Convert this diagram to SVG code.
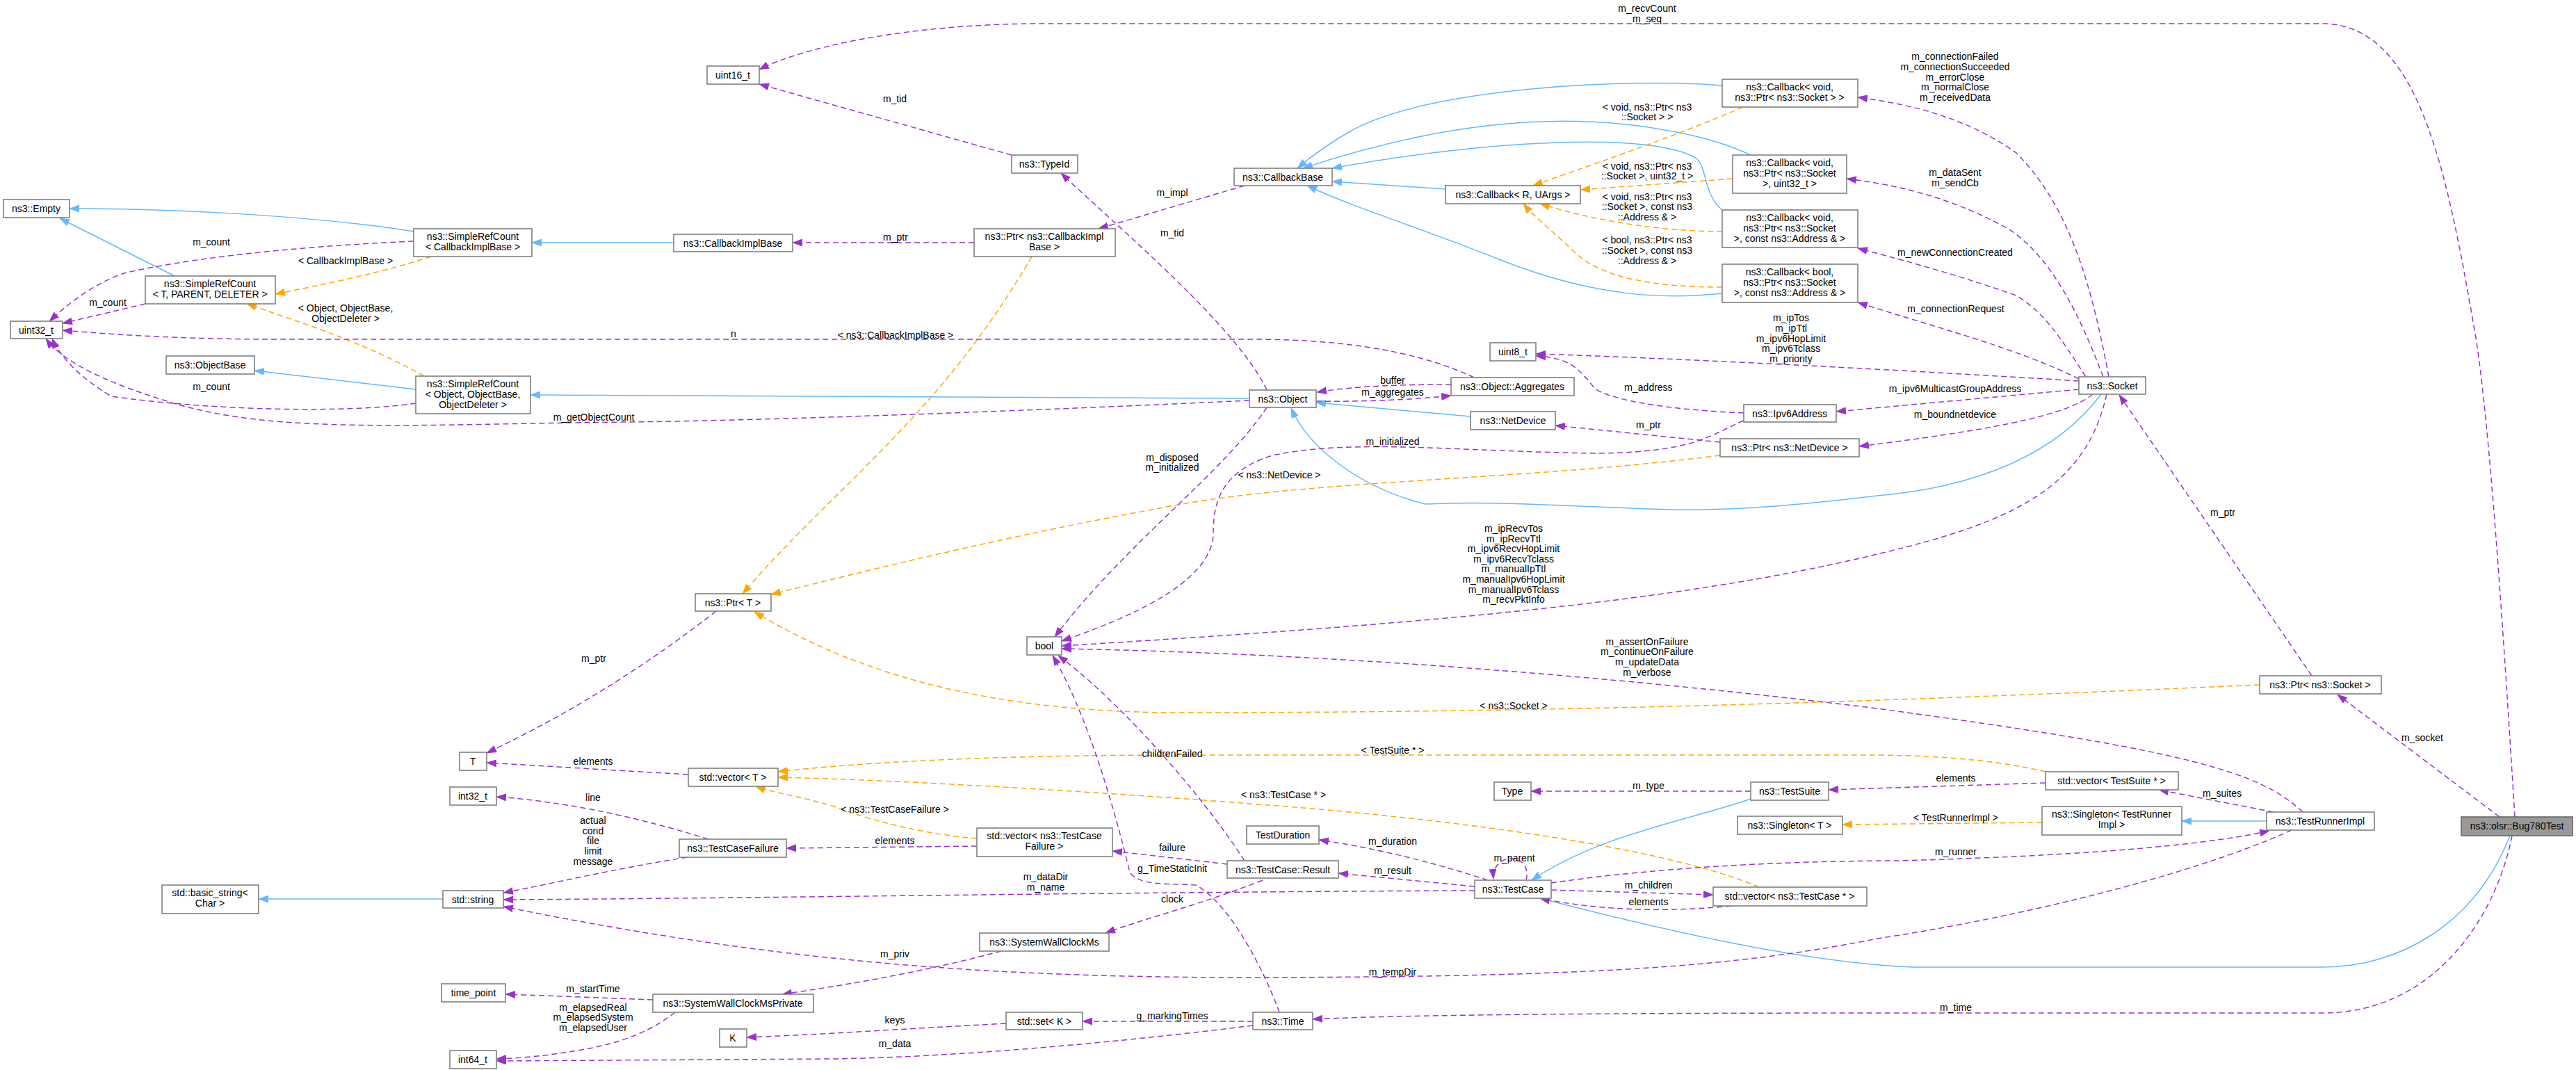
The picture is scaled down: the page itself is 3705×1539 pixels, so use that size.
<svg xmlns="http://www.w3.org/2000/svg" width="3705" height="1539" viewBox="0 0 3705 1539">
<style>
.n rect{fill:#fff;stroke:#808080;stroke-width:1.6}
.n text,.l{font-family:"Liberation Sans",Arial,sans-serif;font-size:14px;text-anchor:middle;fill:#000}
.e path{fill:none;stroke-width:1.5}
.u{stroke:#9a32cd;stroke-dasharray:8,5;marker-end:url(#ap)}
.i{stroke:#63b8ff;marker-end:url(#ab)}
.o{stroke:#ffa500;stroke-dasharray:8,5;marker-end:url(#ao)}
</style>
<defs>
<marker id="ap" markerWidth="15" markerHeight="11" refX="14" refY="5.5" orient="auto" markerUnits="userSpaceOnUse"><path d="M0,0 L15,5.5 L0,11 z" fill="#9a32cd"/></marker>
<marker id="ab" markerWidth="15" markerHeight="11" refX="14" refY="5.5" orient="auto" markerUnits="userSpaceOnUse"><path d="M0,0 L15,5.5 L0,11 z" fill="#63b8ff"/></marker>
<marker id="ao" markerWidth="15" markerHeight="11" refX="14" refY="5.5" orient="auto" markerUnits="userSpaceOnUse"><path d="M0,0 L15,5.5 L0,11 z" fill="#ffa500"/></marker>
</defs>
<rect width="3705" height="1539" fill="#fff"/>
<g id="edges" class="e">
<path class="i" d="M595,333 C450,310 250,300 100,300"/>
<path class="i" d="M251,397 L86,314"/>
<path class="i" d="M969,349 L765,349"/>
<path class="i" d="M598,560 L366,533"/>
<path class="i" d="M1797,573 L763,568"/>
<path class="i" d="M2115,599 L1893,579"/>
<path class="i" d="M3022,567 C2960,650 2850,700 2700,713 C2600,725 2500,735 2400,733 C2250,728 2150,720 2050,725 C1950,700 1880,640 1857,587"/>
<path class="i" d="M2477,123 C2350,112 2050,125 1940,190 C1905,210 1880,230 1866,242"/>
<path class="i" d="M2518,223 C2480,205 2440,195 2400,188 C2200,150 2000,200 1874,242"/>
<path class="i" d="M2477,302 C2450,280 2455,240 2440,228 C2380,190 2150,200 1916,242"/>
<path class="i" d="M2079,272 L1916,261"/>
<path class="i" d="M2477,422 C2400,430 2300,430 2156,373 C2050,330 1950,300 1880,267"/>
<path class="i" d="M2518,1149 C2430,1180 2300,1200 2203,1266"/>
<path class="i" d="M3610,1202 C3560,1330 3450,1391 3341,1391 L2750,1391 C2600,1385 2400,1340 2215,1292"/>
<path class="i" d="M3260,1181 L3138,1181"/>
<path class="i" d="M637,1293 L372,1293"/>

<path class="o" d="M620,369 C540,395 460,410 396,423"/>
<path class="o" d="M610,541 C520,490 420,460 355,437"/>
<path class="o" d="M1484,369 C1350,600 1200,700 1068,854"/>
<path class="o" d="M2474,655 C2200,690 1900,690 1700,725 C1450,770 1250,820 1109,855"/>
<path class="o" d="M3250,985 C2800,1005 2300,1025 1700,1025 C1450,1025 1250,980 1085,880"/>
<path class="o" d="M2942,1110 C2880,1095 2800,1087 2700,1086 L1700,1086 C1450,1086 1250,1095 1119,1110"/>
<path class="o" d="M2530,1276 C2400,1220 2100,1180 1850,1160 C1600,1140 1300,1122 1119,1118"/>
<path class="o" d="M1405,1206 C1330,1200 1250,1180 1200,1160 C1150,1145 1110,1140 1087,1131"/>
<path class="o" d="M2937,1183 L2650,1186"/>
<path class="o" d="M2507,154 C2400,200 2280,240 2205,267"/>
<path class="o" d="M2492,257 L2273,273"/>
<path class="o" d="M2477,333 C2400,333 2300,320 2215,293"/>
<path class="o" d="M2477,413 C2380,413 2300,400 2262,360 C2230,330 2205,310 2191,293"/>

<path class="u" d="M595,347 C480,352 300,365 178,393 C130,410 95,440 71,462"/>
<path class="u" d="M209,437 L90,465"/>
<path class="u" d="M598,580 C500,595 300,590 160,570 C110,540 85,510 75,487"/>
<path class="u" d="M1797,576 C1500,590 1100,605 900,607 C600,610 400,625 250,580 C150,550 90,520 66,487"/>
<path class="u" d="M2120,543 C2050,510 1950,488 1800,488 L400,488 C250,488 150,480 90,475"/>
<path class="u" d="M3617,1175 C3600,900 3580,600 3560,480 C3520,250 3480,34 3340,34 L1500,34 C1300,34 1150,70 1092,100"/>
<path class="u" d="M1455,223 L1092,121"/>
<path class="u" d="M1822,561 C1780,470 1600,320 1526,249"/>
<path class="u" d="M1790,267 L1580,329"/>
<path class="u" d="M1401,349 L1140,349"/>
<path class="u" d="M1822,586 C1760,680 1620,780 1517,916"/>
<path class="u" d="M2508,605 C2460,625 2440,650 2300,652 C2100,650 1950,630 1830,655 C1750,680 1745,730 1745,770 C1740,840 1620,890 1527,922"/>
<path class="u" d="M2508,594 C2420,590 2330,580 2295,560 C2270,530 2260,515 2209,512"/>
<path class="u" d="M2990,548 C2700,530 2400,515 2209,509"/>
<path class="u" d="M2990,560 L2641,592"/>
<path class="u" d="M3010,567 C2970,600 2850,620 2674,642"/>
<path class="u" d="M3030,567 C3000,700 2900,750 2700,797 C2400,870 2000,900 1527,929"/>
<path class="u" d="M3312,1168 C3250,1110 3150,1080 2700,1019 C2300,970 1900,940 1527,933"/>
<path class="u" d="M1790,1238 C1720,1130 1600,1000 1522,943"/>
<path class="u" d="M1840,1456 C1820,1400 1770,1300 1720,1273 C1680,1270 1640,1275 1625,1255 C1600,1150 1560,1020 1514,943"/>
<path class="u" d="M1019,1207 C900,1170 800,1152 714,1146"/>
<path class="u" d="M989,1233 C880,1250 800,1270 724,1284"/>
<path class="u" d="M2121,1281 C1600,1283 1100,1292 724,1294"/>
<path class="u" d="M3296,1194 C3150,1260 2900,1320 2700,1350 C2500,1390 2300,1405 1800,1406 C1400,1406 1100,1380 724,1304"/>
<path class="u" d="M1405,1217 L1131,1220"/>
<path class="u" d="M990,1114 L700,1097"/>
<path class="u" d="M1030,879 C900,980 790,1040 700,1083"/>
<path class="u" d="M1765,1243 L1600,1224"/>
<path class="u" d="M1816,1266 C1730,1300 1650,1320 1590,1342"/>
<path class="u" d="M2121,1275 L1925,1256"/>
<path class="u" d="M2140,1266 C2060,1240 1980,1220 1897,1208"/>
<path class="u" d="M2195,1266 C2205,1225 2145,1225 2148,1264"/>
<path class="u" d="M2231,1280 L2464,1287"/>
<path class="u" d="M2490,1303 C2400,1312 2300,1310 2215,1292"/>
<path class="u" d="M2518,1138 L2202,1138"/>
<path class="u" d="M2942,1126 L2630,1136"/>
<path class="u" d="M3270,1168 L3105,1136"/>
<path class="u" d="M2231,1270 C2400,1245 2600,1238 2730,1238 C2950,1232 3150,1220 3264,1195"/>
<path class="u" d="M3595,1175 L3362,999"/>
<path class="u" d="M3613,1202 C3590,1320 3500,1457 3341,1457 L2700,1457 C2300,1457 2000,1460 1888,1466"/>
<path class="u" d="M3325,972 L3048,568"/>
<path class="u" d="M3033,542 C3010,420 2980,300 2900,220 C2830,170 2750,150 2672,140"/>
<path class="u" d="M3025,542 C2990,450 2950,370 2890,330 C2800,280 2720,265 2656,257"/>
<path class="u" d="M3000,542 C2960,480 2940,450 2900,425 C2800,390 2720,370 2672,357"/>
<path class="u" d="M2990,545 C2900,500 2780,470 2672,435"/>
<path class="u" d="M2087,553 C2020,553 1950,555 1894,564"/>
<path class="u" d="M1893,577 C1960,578 2030,575 2087,569"/>
<path class="u" d="M2474,636 L2237,612"/>
<path class="u" d="M1440,1368 C1340,1395 1230,1415 1125,1430"/>
<path class="u" d="M939,1438 L727,1430"/>
<path class="u" d="M971,1456 C940,1480 900,1500 830,1511 C790,1518 750,1522 714,1523"/>
<path class="u" d="M1802,1475 C1600,1500 1380,1520 1200,1523 L714,1526"/>
<path class="u" d="M1802,1469 L1557,1469"/>
<path class="u" d="M1447,1472 C1300,1480 1180,1488 1074,1492"/>
</g>
<g id="labels">
<text class="l" x="304" y="353">m_count</text>
<text class="l" x="497" y="380">&lt; CallbackImplBase &gt;</text>
<text class="l" x="155" y="440">m_count</text>
<text class="l" x="497" y="448">&lt; Object, ObjectBase,</text>
<text class="l" x="497" y="463">ObjectDeleter &gt;</text>
<text class="l" x="304" y="561">m_count</text>
<text class="l" x="854" y="605">m_getObjectCount</text>
<text class="l" x="854" y="952">m_ptr</text>
<text class="l" x="1287" y="147">m_tid</text>
<text class="l" x="1686" y="282">m_impl</text>
<text class="l" x="1288" y="346">m_ptr</text>
<text class="l" x="1686" y="340">m_tid</text>
<text class="l" x="1055" y="485">n</text>
<text class="l" x="1288" y="487">&lt; ns3::CallbackImplBase &gt;</text>
<text class="l" x="2369" y="17">m_recvCount</text>
<text class="l" x="2369" y="32">m_seq</text>
<text class="l" x="2369" y="159">&lt; void, ns3::Ptr&lt; ns3</text>
<text class="l" x="2369" y="173">::Socket &gt; &gt;</text>
<text class="l" x="2369" y="244">&lt; void, ns3::Ptr&lt; ns3</text>
<text class="l" x="2369" y="258">::Socket &gt;, uint32_t &gt;</text>
<text class="l" x="2369" y="288">&lt; void, ns3::Ptr&lt; ns3</text>
<text class="l" x="2369" y="302">::Socket &gt;, const ns3</text>
<text class="l" x="2369" y="317">::Address &amp; &gt;</text>
<text class="l" x="2369" y="350">&lt; bool, ns3::Ptr&lt; ns3</text>
<text class="l" x="2369" y="365">::Socket &gt;, const ns3</text>
<text class="l" x="2369" y="380">::Address &amp; &gt;</text>
<text class="l" x="2576" y="462">m_ipTos</text>
<text class="l" x="2576" y="477">m_ipTtl</text>
<text class="l" x="2576" y="492">m_ipv6HopLimit</text>
<text class="l" x="2576" y="506">m_ipv6Tclass</text>
<text class="l" x="2576" y="521">m_priority</text>
<text class="l" x="2812" y="86">m_connectionFailed</text>
<text class="l" x="2812" y="101">m_connectionSucceeded</text>
<text class="l" x="2812" y="116">m_errorClose</text>
<text class="l" x="2812" y="130">m_normalClose</text>
<text class="l" x="2812" y="145">m_receivedData</text>
<text class="l" x="2812" y="253">m_dataSent</text>
<text class="l" x="2812" y="268">m_sendCb</text>
<text class="l" x="2812" y="368">m_newConnectionCreated</text>
<text class="l" x="2813" y="449">m_connectionRequest</text>
<text class="l" x="1686" y="663">m_disposed</text>
<text class="l" x="1686" y="677">m_initialized</text>
<text class="l" x="1840" y="688">&lt; ns3::NetDevice &gt;</text>
<text class="l" x="2003" y="552">buffer</text>
<text class="l" x="2003" y="569">m_aggregates</text>
<text class="l" x="2371" y="562">m_address</text>
<text class="l" x="2371" y="616">m_ptr</text>
<text class="l" x="2003" y="640">m_initialized</text>
<text class="l" x="2177" y="765">m_ipRecvTos</text>
<text class="l" x="2177" y="780">m_ipRecvTtl</text>
<text class="l" x="2177" y="794">m_ipv6RecvHopLimit</text>
<text class="l" x="2177" y="809">m_ipv6RecvTclass</text>
<text class="l" x="2177" y="823">m_manualIpTtl</text>
<text class="l" x="2177" y="838">m_manualIpv6HopLimit</text>
<text class="l" x="2177" y="853">m_manualIpv6Tclass</text>
<text class="l" x="2177" y="867">m_recvPktInfo</text>
<text class="l" x="2369" y="928">m_assertOnFailure</text>
<text class="l" x="2369" y="942">m_continueOnFailure</text>
<text class="l" x="2369" y="957">m_updateData</text>
<text class="l" x="2369" y="972">m_verbose</text>
<text class="l" x="2177" y="1020">&lt; ns3::Socket &gt;</text>
<text class="l" x="2812" y="564">m_ipv6MulticastGroupAddress</text>
<text class="l" x="2812" y="601">m_boundnetdevice</text>
<text class="l" x="3197" y="742">m_ptr</text>
<text class="l" x="853" y="1100">elements</text>
<text class="l" x="853" y="1152">line</text>
<text class="l" x="853" y="1185">actual</text>
<text class="l" x="853" y="1200">cond</text>
<text class="l" x="853" y="1214">file</text>
<text class="l" x="853" y="1229">limit</text>
<text class="l" x="853" y="1244">message</text>
<text class="l" x="853" y="1427">m_startTime</text>
<text class="l" x="853" y="1454">m_elapsedReal</text>
<text class="l" x="853" y="1468">m_elapsedSystem</text>
<text class="l" x="853" y="1483">m_elapsedUser</text>
<text class="l" x="1686" y="1089">childrenFailed</text>
<text class="l" x="1287" y="1169">&lt; ns3::TestCaseFailure &gt;</text>
<text class="l" x="1287" y="1214">elements</text>
<text class="l" x="1686" y="1224">failure</text>
<text class="l" x="1686" y="1254">g_TimeStaticInit</text>
<text class="l" x="1504" y="1266">m_dataDir</text>
<text class="l" x="1504" y="1281">m_name</text>
<text class="l" x="1686" y="1298">clock</text>
<text class="l" x="1287" y="1377">m_priv</text>
<text class="l" x="1287" y="1472">keys</text>
<text class="l" x="1686" y="1466">g_markingTimes</text>
<text class="l" x="1287" y="1506">m_data</text>
<text class="l" x="1846" y="1148">&lt; ns3::TestCase * &gt;</text>
<text class="l" x="2003" y="1084">&lt; TestSuite * &gt;</text>
<text class="l" x="2371" y="1135">m_type</text>
<text class="l" x="2003" y="1215">m_duration</text>
<text class="l" x="2178" y="1239">m_parent</text>
<text class="l" x="2003" y="1257">m_result</text>
<text class="l" x="2371" y="1278">m_children</text>
<text class="l" x="2371" y="1302">elements</text>
<text class="l" x="2003" y="1403">m_tempDir</text>
<text class="l" x="3484" y="1066">m_socket</text>
<text class="l" x="2813" y="1124">elements</text>
<text class="l" x="3196" y="1146">m_suites</text>
<text class="l" x="2813" y="1181">&lt; TestRunnerImpl &gt;</text>
<text class="l" x="2813" y="1230">m_runner</text>
<text class="l" x="2813" y="1454">m_time</text>
</g>
<g id="n_empty" class="n"><rect x="5" y="287" width="95" height="26"/><text x="52" y="305">ns3::Empty</text></g>
<g id="n_src_cib" class="n"><rect x="595" y="329" width="170" height="40"/><text x="680" y="345">ns3::SimpleRefCount</text><text x="680" y="360">&lt; CallbackImplBase &gt;</text></g>
<g id="n_src_t" class="n"><rect x="209" y="397" width="187" height="40"/><text x="302" y="413">ns3::SimpleRefCount</text><text x="302" y="428">&lt; T, PARENT, DELETER &gt;</text></g>
<g id="n_uint32" class="n"><rect x="15" y="462" width="75" height="25"/><text x="52" y="480">uint32_t</text></g>
<g id="n_uint16" class="n"><rect x="1017" y="95" width="75" height="26"/><text x="1054" y="113">uint16_t</text></g>
<g id="n_typeid" class="n"><rect x="1455" y="223" width="95" height="26"/><text x="1502" y="241">ns3::TypeId</text></g>
<g id="n_cib" class="n"><rect x="969" y="337" width="171" height="25"/><text x="1054" y="355">ns3::CallbackImplBase</text></g>
<g id="n_ptr_cib" class="n"><rect x="1401" y="329" width="203" height="40"/><text x="1502" y="345">ns3::Ptr&lt; ns3::CallbackImpl</text><text x="1502" y="360">Base &gt;</text></g>
<g id="n_cbbase" class="n"><rect x="1775" y="242" width="141" height="25"/><text x="1845" y="260">ns3::CallbackBase</text></g>
<g id="n_cb1" class="n"><rect x="2477" y="114" width="195" height="40"/><text x="2574" y="130">ns3::Callback&lt; void,</text><text x="2574" y="145">ns3::Ptr&lt; ns3::Socket &gt; &gt;</text></g>
<g id="n_cb2" class="n"><rect x="2492" y="223" width="164" height="55"/><text x="2574" y="239">ns3::Callback&lt; void,</text><text x="2574" y="254">ns3::Ptr&lt; ns3::Socket</text><text x="2574" y="269">&gt;, uint32_t &gt;</text></g>
<g id="n_cbr" class="n"><rect x="2079" y="267" width="194" height="26"/><text x="2176" y="285">ns3::Callback&lt; R, UArgs &gt;</text></g>
<g id="n_cb3" class="n"><rect x="2477" y="302" width="195" height="54"/><text x="2574" y="318">ns3::Callback&lt; void,</text><text x="2574" y="333">ns3::Ptr&lt; ns3::Socket</text><text x="2574" y="348">&gt;, const ns3::Address &amp; &gt;</text></g>
<g id="n_cb4" class="n"><rect x="2477" y="380" width="195" height="55"/><text x="2574" y="396">ns3::Callback&lt; bool,</text><text x="2574" y="411">ns3::Ptr&lt; ns3::Socket</text><text x="2574" y="426">&gt;, const ns3::Address &amp; &gt;</text></g>
<g id="n_uint8" class="n"><rect x="2143" y="493" width="66" height="26"/><text x="2176" y="511">uint8_t</text></g>
<g id="n_objbase" class="n"><rect x="239" y="512" width="127" height="26"/><text x="302" y="530">ns3::ObjectBase</text></g>
<g id="n_src_obj" class="n"><rect x="598" y="541" width="165" height="54"/><text x="680" y="557">ns3::SimpleRefCount</text><text x="680" y="572">&lt; Object, ObjectBase,</text><text x="680" y="587">ObjectDeleter &gt;</text></g>
<g id="n_object" class="n"><rect x="1797" y="561" width="96" height="25"/><text x="1845" y="579">ns3::Object</text></g>
<g id="n_aggr" class="n"><rect x="2087" y="543" width="177" height="26"/><text x="2175" y="561">ns3::Object::Aggregates</text></g>
<g id="n_netdev" class="n"><rect x="2115" y="592" width="122" height="26"/><text x="2176" y="610">ns3::NetDevice</text></g>
<g id="n_ipv6" class="n"><rect x="2508" y="582" width="133" height="25"/><text x="2574" y="600">ns3::Ipv6Address</text></g>
<g id="n_ptr_nd" class="n"><rect x="2474" y="631" width="200" height="26"/><text x="2574" y="649">ns3::Ptr&lt; ns3::NetDevice &gt;</text></g>
<g id="n_socket" class="n"><rect x="2990" y="542" width="96" height="25"/><text x="3038" y="560">ns3::Socket</text></g>
<g id="n_ptr_t" class="n"><rect x="1000" y="854" width="109" height="25"/><text x="1054" y="872">ns3::Ptr&lt; T &gt;</text></g>
<g id="n_bool" class="n"><rect x="1477" y="916" width="50" height="26"/><text x="1502" y="934">bool</text></g>
<g id="n_ptr_sock" class="n"><rect x="3250" y="972" width="175" height="26"/><text x="3337" y="990">ns3::Ptr&lt; ns3::Socket &gt;</text></g>
<g id="n_T" class="n"><rect x="661" y="1082" width="39" height="26"/><text x="680" y="1100">T</text></g>
<g id="n_int32" class="n"><rect x="647" y="1132" width="67" height="26"/><text x="680" y="1150">int32_t</text></g>
<g id="n_bstr" class="n"><rect x="233" y="1273" width="139" height="41"/><text x="302" y="1289">std::basic_string&lt;</text><text x="302" y="1304">Char &gt;</text></g>
<g id="n_string" class="n"><rect x="637" y="1281" width="87" height="25"/><text x="680" y="1299">std::string</text></g>
<g id="n_tp" class="n"><rect x="635" y="1415" width="92" height="26"/><text x="681" y="1433">time_point</text></g>
<g id="n_int64" class="n"><rect x="647" y="1511" width="67" height="26"/><text x="680" y="1529">int64_t</text></g>
<g id="n_vecT" class="n"><rect x="990" y="1105" width="129" height="26"/><text x="1054" y="1123">std::vector&lt; T &gt;</text></g>
<g id="n_tcf" class="n"><rect x="977" y="1207" width="154" height="26"/><text x="1054" y="1225">ns3::TestCaseFailure</text></g>
<g id="n_vec_tcf" class="n"><rect x="1405" y="1191" width="195" height="41"/><text x="1502" y="1207">std::vector&lt; ns3::TestCase</text><text x="1502" y="1222">Failure &gt;</text></g>
<g id="n_result" class="n"><rect x="1765" y="1238" width="160" height="25"/><text x="1845" y="1256">ns3::TestCase::Result</text></g>
<g id="n_tdur" class="n"><rect x="1793" y="1188" width="104" height="26"/><text x="1845" y="1206">TestDuration</text></g>
<g id="n_swc" class="n"><rect x="1409" y="1342" width="186" height="26"/><text x="1502" y="1360">ns3::SystemWallClockMs</text></g>
<g id="n_swcp" class="n"><rect x="939" y="1430" width="231" height="26"/><text x="1054" y="1448">ns3::SystemWallClockMsPrivate</text></g>
<g id="n_set" class="n"><rect x="1447" y="1456" width="110" height="25"/><text x="1502" y="1474">std::set&lt; K &gt;</text></g>
<g id="n_K" class="n"><rect x="1035" y="1480" width="39" height="26"/><text x="1054" y="1498">K</text></g>
<g id="n_time" class="n"><rect x="1802" y="1456" width="86" height="25"/><text x="1845" y="1474">ns3::Time</text></g>
<g id="n_type" class="n"><rect x="2149" y="1125" width="53" height="26"/><text x="2175" y="1143">Type</text></g>
<g id="n_suite" class="n"><rect x="2518" y="1125" width="112" height="26"/><text x="2574" y="1143">ns3::TestSuite</text></g>
<g id="n_singT" class="n"><rect x="2499" y="1174" width="151" height="26"/><text x="2574" y="1192">ns3::Singleton&lt; T &gt;</text></g>
<g id="n_testcase" class="n"><rect x="2121" y="1266" width="110" height="26"/><text x="2176" y="1284">ns3::TestCase</text></g>
<g id="n_vec_tc" class="n"><rect x="2464" y="1276" width="221" height="27"/><text x="2574" y="1294">std::vector&lt; ns3::TestCase * &gt;</text></g>
<g id="n_vec_ts" class="n"><rect x="2942" y="1110" width="191" height="26"/><text x="3037" y="1128">std::vector&lt; TestSuite * &gt;</text></g>
<g id="n_sing_tr" class="n"><rect x="2937" y="1160" width="201" height="41"/><text x="3037" y="1176">ns3::Singleton&lt; TestRunner</text><text x="3037" y="1191">Impl &gt;</text></g>
<g id="n_runner" class="n"><rect x="3260" y="1168" width="155" height="26"/><text x="3337" y="1186">ns3::TestRunnerImpl</text></g>
<g id="n_bug" class="n"><rect x="3540" y="1175" width="160" height="27" style="fill:#999;stroke:#666"/><text x="3620" y="1193">ns3::olsr::Bug780Test</text></g>
</svg>
